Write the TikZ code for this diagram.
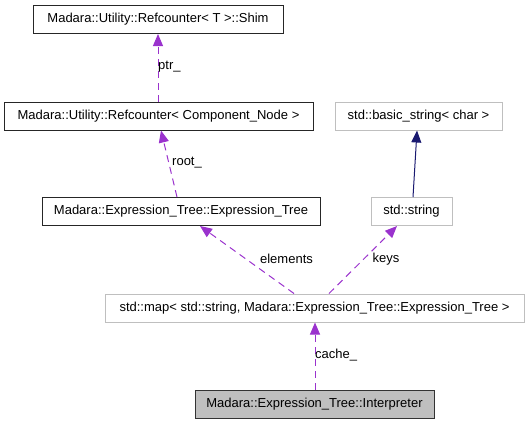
\documentclass[tikz,border=0pt]{standalone}
\usepackage{fontspec}
\setmainfont{Liberation Sans}
\usetikzlibrary{arrows.meta}
\definecolor{purp}{HTML}{9A32CD}
\definecolor{navy}{HTML}{191970}
\definecolor{lgray}{HTML}{BFBFBF}
\tikzset{
  cls/.style={draw=black!85, line width=1pt, minimum height=28pt, inner sep=0pt, font=\fontsize{13}{15}\selectfont, fill=white, text=black},
  ext/.style={cls, draw=lgray},
  cur/.style={cls, fill=lgray, draw=black!80},
  usedby/.style={purp, dash pattern=on 7pt off 5pt, line width=1pt, -{Triangle[length=12pt,width=10pt]}},
  inherit/.style={navy, line width=1pt, -{Triangle[length=12pt,width=10pt]}},
  lbl/.style={font=\fontsize{13}{15}\selectfont, inner sep=1pt, text=black}
}
\begin{document}
\begin{tikzpicture}[x=1pt,y=-1pt]
\useasboundingbox (0,0) rectangle (529,424);
\node[cls, minimum width=250pt] (shim) at (158,19.5) {Madara::Utility::Refcounter< T >::Shim};
\node[cls, minimum width=309pt] (refcn) at (158.5,116) {Madara::Utility::Refcounter< Component\_Node >};
\node[ext, minimum width=167pt] (bstr) at (418.5,116) {std::basic\_string< char >};
\node[cls, minimum width=278pt] (etree) at (181,211.5) {Madara::Expression\_Tree::Expression\_Tree};
\node[ext, minimum width=81pt] (str) at (411.5,211.5) {std::string};
\node[ext, minimum width=419pt] (map) at (314.5,308) {std::map< std::string, Madara::Expression\_Tree::Expression\_Tree >};
\node[cur, minimum width=239pt] (interp) at (314.5,404) {Madara::Expression\_Tree::Interpreter};

\draw[usedby] (refcn.north -| 158,0) -- (shim.south -| 158,0);
\node[lbl, anchor=west] (plab) at (157,67) {ptr\_};
\draw[usedby] (etree.north -| 177,0) -- (refcn.south -| 161,0);
\node[lbl, anchor=west] (rlab) at (171,163) {root\_};
\draw[usedby] (map.north -| 294,0) -- (etree.south -| 200,0);
\node[lbl] (elab) at (286.5,259) {elements};
\draw[usedby] (map.north -| 329,0) -- (str.south -| 397,0);
\node[lbl] (klab) at (386,259) {keys};
\draw[inherit] (str.north -| 413,0) -- (bstr.south -| 417,0);
\draw[usedby] (interp.north -| 315,0) -- (map.south -| 315,0);
\node[lbl, anchor=west] (clab) at (314,355) {cache\_};
\end{tikzpicture}
\end{document}
